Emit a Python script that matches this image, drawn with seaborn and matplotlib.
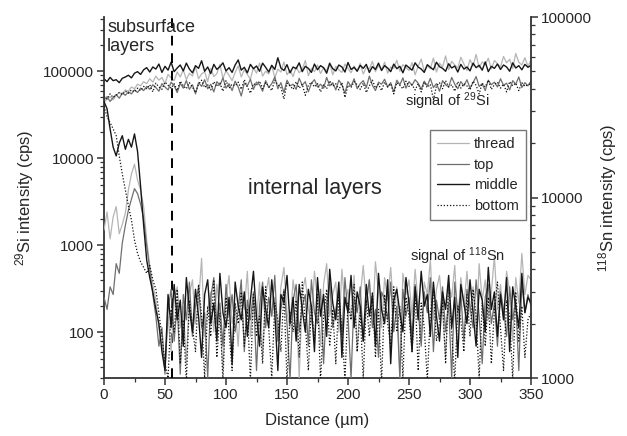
import numpy as np
import pandas as pd
import matplotlib
matplotlib.use("Agg")
import matplotlib.pyplot as plt
from matplotlib.ticker import LogLocator, FixedLocator, FixedFormatter, NullFormatter, MultipleLocator
import seaborn as sns

# ---------------- data ----------------
x_start, x_stop, x_step = 0.0, 350.0, 2.5          # distance sampling (µm)
x_ticks = [0, 50, 100, 150, 200, 250, 300, 350]
left_ticks = [100, 1000, 10000, 100000]
right_ticks = [1000, 10000, 100000]
boundary_um = 56                                     # subsurface / internal boundary

layers = ["thread", "top", "middle", "bottom"]

# 29Si signal, in thousands of cps (left axis)
si_thread_k = [44, 48, 51, 47, 53, 57, 55, 61, 59, 66,
               63, 71, 68, 76, 72, 82, 75, 88, 79, 85,
               72, 92, 84, 78, 98, 86, 104, 80, 95, 88,
               112, 82, 93, 99, 76, 108, 87, 94, 120, 83,
               101, 90, 78, 97, 115, 86, 104, 92, 81, 110,
               95, 124, 88, 100, 93, 117, 84, 106, 98, 128,
               91, 103, 87, 112, 96, 105, 133, 89, 108, 99,
               118, 94, 110, 102, 126, 91, 114, 104, 97, 121,
               108, 96, 115, 101, 123, 93, 111, 106, 130, 99,
               117, 104, 127, 95, 112, 108, 134, 100, 119, 110,
               102, 126, 91, 114, 138, 100, 116, 107, 142, 98,
               124, 112, 150, 104, 130, 118, 109, 145, 121, 102,
               136, 115, 156, 110, 128, 119, 141, 106, 133, 122,
               112, 148, 125, 137, 108, 160, 127, 118, 143, 114,
               134]
si_top_k = [47, 51, 45, 50, 54, 49, 56, 53, 58, 55,
            61, 57, 64, 60, 67, 62, 70, 65, 59, 72,
            66, 61, 75, 68, 57, 73, 64, 78, 62, 70,
            55, 74, 67, 80, 63, 71, 58, 76, 69, 84,
            64, 72, 60, 77, 66, 52, 73, 68, 81, 62,
            75, 70, 59, 78, 65, 72, 86, 63, 74, 57,
            79, 68, 71, 62, 83, 69, 76, 58, 73, 80,
            66, 71, 64, 85, 68, 74, 61, 79, 70, 56,
            76, 67, 82, 63, 72, 78, 65, 88, 69, 60,
            75, 71, 81, 66, 74, 58, 79, 70, 84, 64,
            76, 69, 80, 73, 62, 77, 68, 83, 65, 72,
            59, 78, 70, 66, 85, 71, 63, 76, 68, 80,
            64, 74, 87, 67, 72, 60, 79, 70, 75, 66,
            82, 69, 73, 61, 78, 71, 86, 65, 74, 68,
            77]
si_middle_k = [82, 76, 85, 78, 80, 74, 83, 86, 90, 84,
               95, 99, 92, 104, 110, 98, 112, 106, 121, 97,
               114, 103, 127, 99, 109, 118, 101, 124, 106, 96,
               116, 108, 132, 100, 112, 94, 120, 105, 113, 125,
               101, 110, 97, 118, 135, 103, 111, 96, 120, 107,
               115, 100, 124, 111, 98, 117, 105, 143, 109, 102,
               119, 96, 112, 107, 125, 99, 114, 108, 97, 121,
               104, 116, 110, 95, 123, 107, 101, 118, 112, 98,
               126, 105, 111, 100, 117, 108, 120, 97, 113, 105,
               124, 102, 116, 109, 99, 121, 107, 114, 96, 118,
               110, 103, 125, 112, 106, 97, 119, 111, 104, 127,
               113, 108, 100, 122, 109, 115, 98, 120, 106, 112,
               101, 124, 110, 117, 103, 128, 99, 114, 108, 121,
               105, 118, 112, 100, 125, 109, 116, 104, 120, 111,
               117]
si_bottom_k = [52, 48, 55, 50, 53, 57, 54, 59, 56, 61,
               58, 64, 60, 67, 63, 70, 58, 73, 66, 62,
               75, 69, 64, 72, 60, 77, 68, 63, 74, 66,
               57, 71, 79, 65, 70, 61, 76, 67, 73, 59,
               78, 64, 71, 68, 75, 62, 80, 66, 56, 72,
               69, 77, 63, 74, 67, 60, 79, 70, 65, 48,
               73, 68, 62, 76, 64, 71, 53, 69, 75, 66,
               72, 58, 70, 63, 78, 67, 72, 61, 74, 50,
               69, 65, 76, 70, 62, 73, 57, 68, 79, 64,
               71, 60, 75, 66, 72, 55, 74, 69, 63, 77,
               67, 70, 61, 72, 58, 75, 65, 71, 47, 68,
               74, 63, 78, 66, 70, 59, 76, 64, 72, 68,
               61, 77, 69, 55, 73, 66, 79, 62, 70, 75,
               64, 71, 58, 76, 68, 73, 60, 74, 67, 70,
               72]

# 118Sn signal, cps (right axis)
sn_thread = [6600, 8300, 5900, 7800, 8900, 6300, 7100, 8200, 11000, 13500,
             15300, 12500, 11000, 8900, 5800, 4200, 3300, 2700, 1900, 1500,
             1200, 2200, 1400, 2700, 3200, 1900, 2500, 1200, 2900, 3500,
             2000, 2600, 4600, 1700, 2400, 3000, 1800, 3300, 2300, 1100,
             2800, 3700, 2000, 2500, 1500, 3100, 2400, 3900, 1700, 2700,
             2100, 3400, 1300, 2900, 3600, 2200, 2800, 1600, 3200, 4100,
             2300, 1900, 3500, 2600, 1000, 3000, 3600, 2400, 2000, 3900,
             2700, 1500, 3300, 4300, 2200, 2900, 3400, 1800, 4000, 2500,
             3100, 2100, 3700, 1400, 2800, 4200, 2600, 3500, 2000, 4400,
             3000, 1900, 3600, 2700, 4100, 2300, 3200, 1000, 3800, 2900,
             3500, 2200, 4000, 2600, 1700, 3400, 2900, 4500, 2100, 3100,
             3700, 2400, 1300, 3300, 2800, 4200, 2000, 3600, 2500, 3900,
             2300, 3200, 1800, 4300, 2700, 3500, 2100, 3000, 4700, 2400,
             3300, 2100, 3900, 3000, 1600, 3600, 2600, 4900, 2900, 3700,
             3500]
sn_top = [2800, 2400, 3200, 2900, 4300, 3800, 5600, 7000, 8500, 9800,
          11200, 10500, 9200, 7600, 5400, 4000, 2900, 2200, 1500, 1900,
          1050, 2400, 3100, 1600, 2600, 1050, 2900, 2100, 3400, 1700,
          2500, 3200, 1900, 2300, 1000, 2800, 3600, 2000, 2600, 1500,
          3300, 2200, 2900, 1800, 2400, 3500, 1400, 2700, 2100, 3000,
          1100, 2500, 3400, 1900, 2800, 2200, 3700, 1600, 2400, 3100,
          2000, 980, 2700, 3300, 1800, 2500, 2900, 1500, 3500, 2300,
          2000, 3100, 1200, 2600, 3400, 1900, 2400, 3000, 1700, 3600,
          2200, 990, 2800, 2300, 3200, 1600, 2600, 3500, 1900, 2400,
          1300, 3000, 2700, 2100, 3400, 1800, 2500, 1000, 3100, 2200,
          2800, 1700, 3300, 2400, 1500, 3000, 2300, 3600, 1400, 2700,
          2100, 3200, 1800, 2600, 1000, 3400, 2300, 2900, 1600, 3100,
          2500, 1900, 3500, 2200, 1200, 2800, 3300, 2000, 2600, 1500,
          3000, 2400, 1700, 3200, 2100, 2700, 1100, 3400, 2300, 2900,
          2500]
sn_middle = [34000, 31000, 24000, 19000, 17000, 20000, 22000, 18500, 21000, 19000,
             22500, 18000, 11500, 7000, 4500, 3600, 3000, 2400, 2000, 1400,
             1100, 2900, 1900, 3300, 2100, 2700, 1500, 3600, 2400, 1800,
             3100, 2200, 1300, 2900, 3500, 2000, 2600, 1600, 3800, 2300,
             1900, 2800, 1200, 3400, 2500, 2100, 3000, 1700, 2700, 3900,
             2200, 1500, 3200, 2400, 1900, 3500, 2300, 1100, 2900, 2600,
             3700, 2000, 2800, 1600, 3300, 2400, 1800, 3100, 2500, 1400,
             3600, 2200, 2900, 1700, 4000, 2600, 2100, 3400, 1300, 2800,
             2300, 3700, 1900, 3000, 2500, 1600, 3300, 2200, 2900, 1500,
             3800, 2400, 2000, 3500, 1200, 2700, 3100, 2300, 1800, 3600,
             2600, 1400, 3200, 2100, 3900, 2500, 2900, 1700, 3400, 2200,
             1600, 3000, 2400, 3700, 1900, 2800, 1300, 3300, 2600, 2000,
             3500, 2300, 1500, 3100, 2700, 1800, 4100, 2400, 3000, 1700,
             2900, 2100, 3600, 1400, 3200, 2500, 1900, 3800, 2300, 2800,
             2600]
sn_bottom = [32000, 28000, 26000, 24000, 22000, 17000, 13500, 11000, 9000, 7500,
             5800, 4900, 4400, 4100, 3800, 4200, 3500, 3100, 2300, 1700,
             1200, 1000, 2400, 1800, 3100, 1200, 2100, 950, 2700, 1900,
             1400, 3300, 2200, 1000, 2500, 1700, 3500, 1300, 2300, 960,
             2800, 1800, 1100, 2600, 2000, 3000, 1500, 2400, 970, 2900,
             1700, 2200, 1200, 3200, 1900, 1000, 2600, 2100, 1400, 3000,
             950, 2300, 1800, 2700, 1300, 3400, 2000, 1100, 2500, 1600,
             2900, 960, 2200, 3100, 1500, 2400, 1200, 2800, 1900, 980,
             2600, 2100, 3300, 1400, 2300, 1000, 2700, 1700, 3000, 1300,
             2400, 950, 2900, 2000, 1500, 3200, 1800, 2500, 1000, 2800,
             2200, 1400, 3000, 1100, 2600, 1900, 970, 2300, 3100, 1600,
             2000, 2700, 1200, 3300, 1800, 960, 2500, 2100, 1400, 2900,
             1700, 3100, 2200, 1000, 2600, 1500, 2800, 1200, 2400, 3400,
             1900, 1100, 2700, 2200, 980, 3000, 1600, 2500, 1300, 2100,
             2300]

# ---------------- tables ----------------
distance = np.arange(x_start, x_stop + x_step / 2, x_step)
si_map = {"thread": si_thread_k, "top": si_top_k, "middle": si_middle_k, "bottom": si_bottom_k}
sn_map = {"thread": sn_thread, "top": sn_top, "middle": sn_middle, "bottom": sn_bottom}

def long_table(mapping, scale=1.0):
    rows = []
    for name, vals in mapping.items():
        rows.append(pd.DataFrame({"distance": distance,
                                  "value": np.asarray(vals, float) * scale,
                                  "layer": name}))
    return pd.concat(rows, ignore_index=True)

df_si = long_table(si_map, 1000.0)
df_sn = long_table(sn_map)

# ---------------- style ----------------
sns.set_style("ticks")
plt.rcParams["font.family"] = ["Liberation Sans", "DejaVu Sans"]
plt.rcParams["mathtext.fontset"] = "custom"
plt.rcParams["mathtext.rm"] = "Liberation Sans"

colors = {"thread": "#b5b5b5", "top": "#6f6f6f", "middle": "#161616", "bottom": "#111111"}
styles = {"thread": "-", "top": "-", "middle": "-", "bottom": (0, (1.0, 1.5))}
widths = {"thread": 0.9, "top": 0.9, "middle": 1.0, "bottom": 0.9}
draw_order = ["thread", "top", "bottom", "middle"]

fig = plt.figure(figsize=(6.27, 4.36), dpi=100)
ax = fig.add_axes([104 / 627, 1 - 378 / 436, 427 / 627, 361 / 436])
ax2 = ax.twinx()

handles = {}
for name in draw_order:
    d = df_si[df_si["layer"] == name]
    sns.lineplot(data=d, x="distance", y="value", ax=ax, color=colors[name],
                 linewidth=widths[name], linestyle=styles[name], legend=False,
                 estimator=None, errorbar=None)
    handles[name] = ax.lines[-1]
for name in draw_order:
    d = df_sn[df_sn["layer"] == name]
    sns.lineplot(data=d, x="distance", y="value", ax=ax2, color=colors[name],
                 linewidth=widths[name], linestyle=styles[name], legend=False,
                 estimator=None, errorbar=None)

ax.set_yscale("log")
ax2.set_yscale("log")
ax.set_xlim(0, 350)
ax.set_ylim(30, 4.2e5)
ax2.set_ylim(1000, 100000)

ax.axvline(boundary_um, color="black", linestyle=(0, (5, 4)), linewidth=1.4, zorder=5)

# ticks
ax.xaxis.set_major_locator(FixedLocator(x_ticks))
ax.xaxis.set_minor_locator(MultipleLocator(25))
ax.yaxis.set_major_locator(FixedLocator(left_ticks))
ax.yaxis.set_major_formatter(FixedFormatter([str(v) for v in left_ticks]))
ax.yaxis.set_minor_locator(LogLocator(base=10, subs=np.arange(2, 10), numticks=20))
ax.yaxis.set_minor_formatter(NullFormatter())
ax2.yaxis.set_major_locator(FixedLocator(right_ticks))
ax2.yaxis.set_major_formatter(FixedFormatter([str(v) for v in right_ticks]))
ax2.yaxis.set_minor_locator(LogLocator(base=10, subs=np.arange(2, 10), numticks=20))
ax2.yaxis.set_minor_formatter(NullFormatter())

spine_c = "#333333"
for a in (ax, ax2):
    a.spines["top"].set_visible(False)
    for s in a.spines.values():
        s.set_color(spine_c)
        s.set_linewidth(1.3)
    a.tick_params(which="major", length=5, width=1.1, color=spine_c, labelsize=11,
                  direction="out", pad=2)
    a.tick_params(which="minor", length=3, width=0.9, color=spine_c, direction="out")
ax.spines["right"].set_visible(False)
ax2.spines["left"].set_visible(False)
ax2.spines["bottom"].set_visible(False)

ax.set_xlabel("Distance (µm)", fontsize=12, labelpad=8)
ax.set_ylabel(r"$\mathregular{^{29}}$Si intensity (cps)", fontsize=12, labelpad=5)
ax2.set_ylabel(r"$\mathregular{^{118}}$Sn intensity (cps)", fontsize=12, labelpad=3,
               rotation=90)

# annotations
fig.text(107 / 627, 1 - 19 / 436, "subsurface\nlayers", fontsize=13, ha="left", va="top",
         linespacing=1.15)
fig.text(315 / 627, 1 - 188 / 436, "internal layers", fontsize=15.5, ha="center", va="center")
fig.text(405 / 627, 1 - 101 / 436, r"signal of $\mathregular{^{29}}$Si", fontsize=10.5,
         ha="left", va="center")
fig.text(410 / 627, 1 - 256 / 436, r"signal of $\mathregular{^{118}}$Sn", fontsize=10.5,
         ha="left", va="center")

leg = ax2.legend([handles[n] for n in layers], layers, loc="upper left",
                 bbox_to_anchor=((430 - 104) / 427, (378 - 130) / 361),
                 frameon=True, fancybox=False, edgecolor="#555555", fontsize=10.5,
                 handlelength=2.2, handletextpad=0.3, labelspacing=0.45,
                 borderpad=0.5, borderaxespad=0)
leg.get_frame().set_linewidth(1.0)
leg.set_zorder(10)

fig.savefig("out.png", dpi=100)
